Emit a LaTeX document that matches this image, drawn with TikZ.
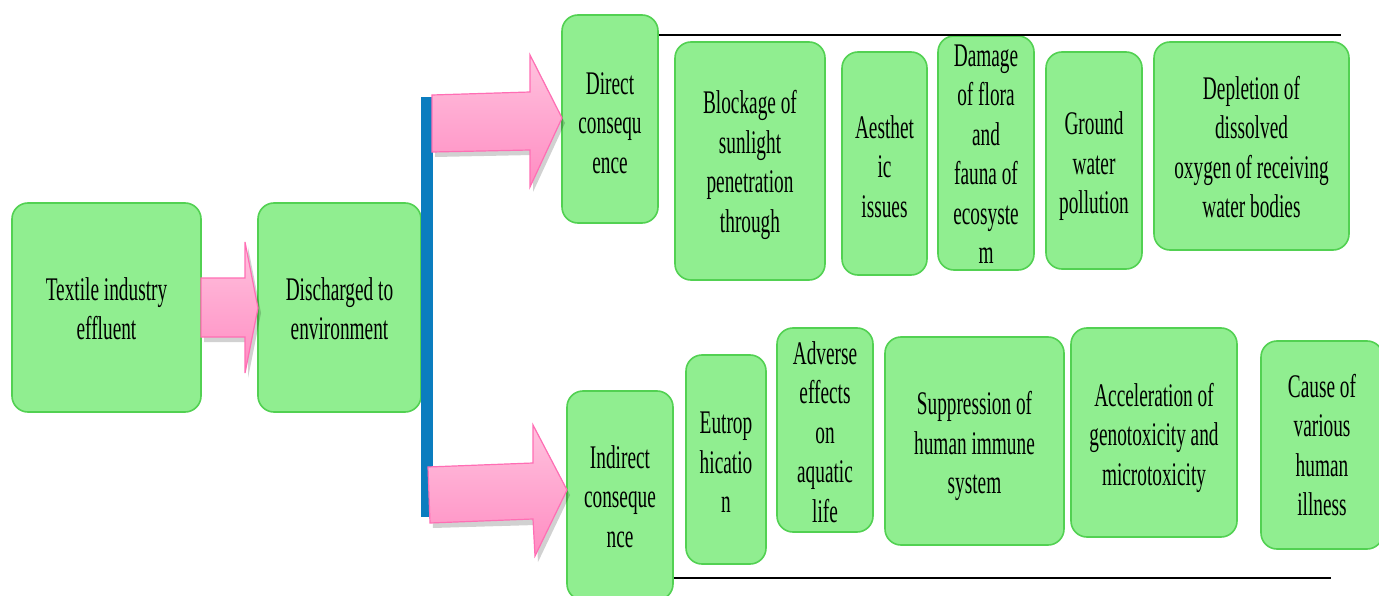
\documentclass[tikz,border=0pt]{standalone}
\usepackage{fontspec}
\setmainfont[FakeStretch=0.585]{Liberation Serif}
\usetikzlibrary{calc}
\definecolor{boxfill}{HTML}{90EE90}
\definecolor{boxedge}{HTML}{52D152}
\definecolor{pinkedge}{HTML}{FF6EB4}
\definecolor{pinktop}{HTML}{FFC2DE}
\definecolor{pinkbot}{HTML}{FF8CC2}
\definecolor{barblue}{HTML}{0B7DBF}
\tikzset{
  box/.style={draw=boxedge, fill=boxfill, rounded corners=16pt, line width=1.6pt, inner sep=0pt},
  txt/.style={inner sep=0pt, align=center, font=\fontsize{33}{39.5}\selectfont},
  blockarrow/.style={draw=pinkedge, line width=1.2pt, top color=pinktop, bottom color=pinkbot, line join=miter},
  arrowshadow/.style={fill=black, opacity=0.18, draw=none},
  rule/.style={draw=black, line width=2.2pt}
}
\begin{document}
\begin{tikzpicture}[x=1pt,y=-1pt]
\useasboundingbox (0,0) rectangle (1379,596);
\clip (0,0) rectangle (1379,596);
\fill[white] (0,0) rectangle (1379,596);

% boxes
\node[box, minimum width=189pt, minimum height=209pt] (textile) at (106.5,307.5) {};
\node[box, minimum width=163pt, minimum height=209pt] (discharged) at (339.5,307.5) {};
\node[box, minimum width=96pt, minimum height=208pt] (direct) at (610,119) {};
\node[box, minimum width=150pt, minimum height=238pt] (blockage) at (750,161) {};
\node[box, minimum width=85pt, minimum height=223pt] (aesthetic) at (884.5,163.5) {};
\node[box, minimum width=96pt, minimum height=234pt] (damage) at (986,153) {};
\node[box, minimum width=96pt, minimum height=217pt] (ground) at (1094,160.5) {};
\node[box, minimum width=195pt, minimum height=208pt] (depletion) at (1251.5,146) {};
\node[box, minimum width=106pt, minimum height=209pt] (indirect) at (620,495.5) {};
\node[box, minimum width=80pt, minimum height=209pt] (eutro) at (726,459.5) {};
\node[box, minimum width=96pt, minimum height=204pt] (adverse) at (825,430) {};
\node[box, minimum width=179pt, minimum height=208pt] (suppression) at (974.5,441) {};
\node[box, minimum width=166pt, minimum height=209pt] (acceleration) at (1154,432.5) {};
\node[box, minimum width=122pt, minimum height=208pt] (cause) at (1322,445) {};

% texts
\node[txt] (textile-t) at ($(textile)+(0,1)$) {Textile industry\\effluent};
\node[txt] (discharged-t) at ($(discharged)+(0,1)$) {Discharged to\\environment};
\node[txt] (direct-t) at ($(direct)+(0,4)$) {Direct\\consequ\\ence};
\node[txt] (blockage-t) at ($(blockage)+(0,4)$) {Blockage of\\sunlight\\penetration\\through};
\node[txt] (aesthetic-t) at ($(aesthetic)+(0,3)$) {Aesthet\\ic\\issues};
\node[txt] (damage-t) at ($(damage)+(0,1)$) {Damage\\of flora\\and\\fauna of\\ecosyste\\m};
\node[txt] (ground-t) at ($(ground)+(0,6)$) {Ground\\water\\pollution};
\node[txt] (depletion-t) at ($(depletion)+(0,1)$) {Depletion of\\dissolved\\oxygen of receiving\\water bodies};
\node[txt] (indirect-t) at ($(indirect)+(0,1)$) {Indirect\\conseque\\nce};
\node[txt] (eutro-t) at ($(eutro)+(0,3)$) {Eutrop\\hicatio\\n};
\node[txt] (adverse-t) at ($(adverse)+(0,2)$) {Adverse\\effects\\on\\aquatic\\life};
\node[txt] (suppression-t) at ($(suppression)+(0,5)$) {Suppression of\\human immune\\system};
\node[txt] (acceleration-t) at ($(acceleration)+(0,5)$) {Acceleration of\\genotoxicity and\\microtoxicity};
\node[txt] (cause-t) at ($(cause)+(0,0)$) {Cause of\\various\\human\\illness};

% rules
\coordinate (topend) at (1341,35);
\coordinate (botend) at (1331,578);
\draw[rule] (direct.east |- topend) -- (topend);
\draw[rule] (indirect.east |- botend) -- (botend);

% blue bar
\fill[barblue] (421,97) rectangle (433,517);

% arrow shadows
\fill[arrowshadow] (204,283) -- (248,283) -- (248,247) -- (261,313) -- (248,378) -- (248,342) -- (204,342) -- cycle;
\fill[arrowshadow] (435,100) -- (533,97) -- (533,60) -- (565,123) -- (533,192) -- (533,155) -- (435,157) -- cycle;
\fill[arrowshadow] (431,472) -- (536,468) -- (536,430) -- (570,495) -- (538,562) -- (536,525) -- (433,528) -- cycle;

% block arrows
\draw[blockarrow] (201,278) -- (245,278) -- (245,242) -- (258,308) -- (245,373) -- (245,337) -- (201,337) -- cycle;
\draw[blockarrow] (432,95) -- (530,92) -- (530,55) -- (562,118) -- (530,187) -- (530,150) -- (432,152) -- cycle;
\draw[blockarrow] (428,467) -- (533,463) -- (533,425) -- (567,490) -- (535,556) -- (533,519) -- (430,523) -- cycle;
\end{tikzpicture}
\end{document}
